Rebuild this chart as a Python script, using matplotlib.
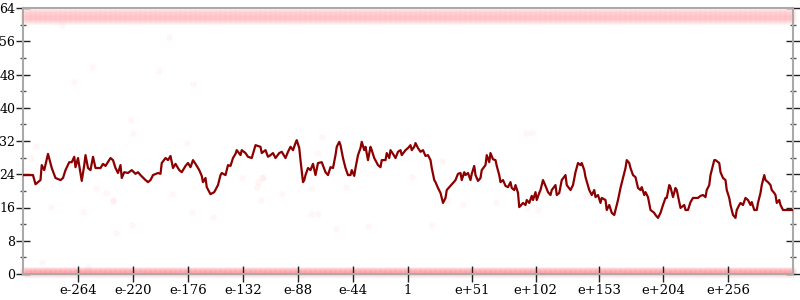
import numpy as np
import matplotlib
matplotlib.use("Agg")
import matplotlib.pyplot as plt
from matplotlib.ticker import MultipleLocator

# ---- data ----
line_x = [-308, -300, -298, -294, -293, -291, -288, -285, -282, -278, -276, -274, -271, -269, -267, -266,
          -264, -261, -259, -258, -256, -254, -252, -250, -246, -244, -242, -238, -236, -234, -232, -230,
          -229, -227, -224, -221, -218, -216, -214, -210, -208, -206, -204, -200, -198, -197, -194, -192,
          -190, -188, -186, -183, -181, -178, -176, -174, -172, -170, -167, -165, -164, -162, -161, -158,
          -155, -152, -150, -149, -146, -144, -142, -140, -138, -137, -134, -133, -130, -128, -125, -123,
          -122, -118, -117, -114, -112, -110, -108, -106, -103, -101, -98, -96, -94, -92, -90, -89,
          -87, -86, -84, -83, -82, -80, -78, -76, -74, -72, -69, -66, -64, -62, -60, -58,
          -57, -55, -54, -52, -50, -48, -46, -45, -43, -42, -40, -38, -37, -35, -34, -32,
          -30, -29, -27, -24, -22, -21, -18, -17, -15, -14, -12, -10, -8, -6, -5, -2,
          0, 2, 3, 5, 6, 8, 10, 12, 14, 16, 18, 19, 21, 22, 24, 26,
          27, 28, 30, 31, 34, 36, 38, 40, 42, 43, 45, 46, 48, 50, 51, 53,
          54, 56, 58, 59, 62, 63, 65, 66, 68, 70, 71, 73, 74, 76, 78, 80,
          82, 83, 85, 86, 88, 89, 90, 92, 94, 95, 97, 99, 100, 102, 103, 105,
          106, 108, 110, 112, 114, 115, 118, 119, 121, 123, 126, 127, 130, 132, 134, 136,
          138, 139, 141, 142, 145, 147, 149, 150, 152, 154, 155, 158, 159, 161, 163, 165,
          166, 168, 170, 172, 174, 175, 177, 178, 180, 182, 184, 186, 187, 189, 190, 192,
          194, 197, 198, 200, 202, 204, 206, 207, 209, 210, 212, 214, 215, 217, 218, 221,
          222, 224, 226, 228, 230, 232, 234, 236, 238, 239, 241, 242, 243, 245, 246, 249,
          250, 252, 254, 255, 257, 258, 260, 262, 263, 265, 266, 268, 270, 272, 274, 275,
          277, 279, 280, 282, 283, 285, 286, 288, 290, 291, 293, 294, 295, 297, 298, 300, 308]
line_y = [23.8, 23.8, 21.6, 22.6, 26.2, 25.0, 28.9, 25.5, 23.1, 22.6, 23.1, 25.0, 26.9, 26.9, 28.2, 25.7,
          27.9, 22.4, 26.2, 28.6, 25.5, 25.0, 28.2, 25.5, 25.5, 26.5, 26.0, 27.9, 27.4, 25.5, 24.3, 26.2,
          23.1, 24.5, 24.3, 25.0, 24.1, 24.5, 23.8, 22.6, 22.1, 22.6, 23.8, 24.3, 24.1, 26.7, 27.9, 27.4,
          28.4, 25.5, 26.5, 25.0, 24.5, 26.0, 26.7, 25.7, 27.4, 26.5, 25.0, 23.6, 22.1, 23.1, 20.9, 19.2,
          19.7, 21.4, 23.8, 24.3, 23.8, 26.2, 26.0, 27.9, 28.9, 29.8, 28.6, 29.8, 29.1, 28.2, 27.9, 30.0,
          31.0, 30.6, 29.1, 29.8, 28.2, 28.6, 29.1, 27.9, 29.1, 29.4, 27.9, 29.4, 30.6, 29.8, 31.5, 32.2,
          30.3, 27.4, 22.1, 22.6, 23.8, 25.5, 25.0, 26.5, 23.8, 26.7, 26.9, 24.5, 23.8, 25.7, 25.5, 28.6,
          30.6, 31.8, 31.0, 27.9, 25.5, 23.8, 23.8, 25.0, 23.6, 25.5, 28.6, 30.3, 31.8, 29.8, 30.6, 27.4,
          30.6, 29.8, 27.9, 26.2, 25.7, 27.4, 27.4, 29.1, 27.9, 29.8, 28.9, 27.9, 29.4, 29.8, 28.6, 29.8,
          30.3, 31.0, 29.8, 30.6, 31.5, 30.3, 29.4, 29.8, 28.4, 28.6, 27.4, 25.5, 22.6, 22.1, 20.7, 19.5,
          18.3, 17.1, 18.3, 20.2, 21.2, 21.9, 22.6, 24.1, 24.3, 22.6, 24.5, 23.8, 24.3, 22.6, 24.1, 26.0,
          23.8, 22.4, 23.1, 25.0, 26.2, 28.6, 26.9, 29.1, 27.6, 27.4, 26.0, 23.8, 22.1, 22.6, 21.2, 20.9,
          22.1, 20.7, 20.2, 21.4, 19.5, 16.1, 16.4, 17.1, 16.6, 17.8, 17.1, 18.8, 17.8, 19.7, 17.8, 19.5,
          20.2, 22.6, 21.2, 19.7, 19.0, 20.2, 21.4, 19.0, 19.5, 22.6, 23.8, 21.4, 20.2, 21.4, 24.5, 26.7,
          26.2, 26.7, 25.0, 23.3, 20.2, 19.0, 20.2, 18.5, 19.0, 17.1, 18.3, 17.8, 15.4, 16.6, 14.7, 14.2,
          15.4, 17.8, 20.7, 23.1, 25.5, 27.4, 26.7, 25.5, 23.8, 23.3, 20.7, 20.2, 20.9, 19.0, 19.7, 18.5,
          15.4, 14.7, 14.2, 13.5, 14.7, 16.6, 18.3, 18.3, 21.4, 20.9, 18.5, 20.7, 20.2, 17.3, 15.9, 16.6,
          15.4, 15.4, 17.3, 18.3, 18.3, 18.3, 18.8, 19.0, 18.5, 20.2, 21.4, 23.8, 25.0, 27.4, 27.4, 26.7,
          24.5, 23.1, 22.6, 20.2, 18.3, 16.6, 14.2, 13.5, 15.4, 16.6, 17.1, 16.6, 18.3, 17.8, 16.6, 17.3,
          15.4, 15.4, 17.1, 19.5, 21.4, 23.8, 22.6, 22.1, 21.4, 20.2, 19.5, 19.0, 17.1, 17.8, 16.6, 15.4, 15.4]

# scattered raw samples (faint points)
band_x = list(range(-308, 309))
top_levels = [63.4, 62.9, 62.4, 61.9, 61.4, 60.9]
bottom_levels = [0.1, 0.4, 0.7, 1.0]
stray_x = [-277, -191, -253, -199, -267, -172, -286, -260, -236, -221, -234, -293, -173, -256, -298, -302,
           -220, -222, -250, -242, -236, -189, -177, -156, -164, -133, -121, -120, -118, -69, -72, -85,
           -78, -101, -50, -116, -78, -72, 27, 3, 31, 70, 94, 99, 108, 104, 142, 95, 44, 19, -32, -58, -117]
stray_y = [59.9, 57.0, 49.8, 48.8, 46.2, 45.7, 16.1, 14.9, 17.6, 11.8, 9.9, 2.9, 14.9, 1.7, 30.8, 27.9,
           33.9, 37.0, 20.7, 19.5, 17.8, 19.2, 31.5, 13.7, 22.6, 23.1, 20.9, 22.1, 17.8, 33.0, 29.1, 24.3,
           20.7, 19.2, 20.9, 23.3, 14.4, 14.4, 27.2, 23.3, 17.8, 17.3, 33.9, 33.9, 19.2, 15.4, 18.8, 15.9,
           16.8, 11.8, 11.5, 10.8, 23.1]

tick_pos = [-264, -220, -176, -132, -88, -44, 0, 51, 102, 153, 204, 256]
tick_labels = ["e-264", "e-220", "e-176", "e-132", "e-88", "e-44", "1",
               "e+51", "e+102", "e+153", "e+204", "e+256"]

# ---- figure ----
plt.rcParams['font.family'] = ['DejaVu Serif']
fig = plt.figure(figsize=(8, 3), dpi=100)
ax = fig.add_axes([23 / 800, 26 / 300, 770 / 800, 266 / 300])

pt_color = (1.0, 0.25, 0.3)
for lv in top_levels:
    ax.scatter(band_x, [lv] * len(band_x), s=26, color=pt_color, alpha=0.018,
               linewidths=0, zorder=1, clip_on=False)
for lv in bottom_levels:
    ax.scatter(band_x, [lv] * len(band_x), s=26, color=pt_color, alpha=0.028,
               linewidths=0, zorder=1, clip_on=False)
ax.scatter(stray_x, stray_y, s=24, color=pt_color, alpha=0.045, linewidths=0, zorder=1)

ax.plot(line_x, line_y, color="#8b0000", lw=1.6, zorder=3)

ax.set_xlim(-308, 308)
ax.set_ylim(0, 64)

for side in ["left", "right", "top", "bottom"]:
    ax.spines[side].set_color("#aaaaaa")
    ax.spines[side].set_linewidth(1.5)

ax.yaxis.set_major_locator(MultipleLocator(8))
ax.yaxis.set_minor_locator(MultipleLocator(4))
ax.tick_params(axis="y", which="major", direction="inout", length=10, width=1,
               color="#222222", labelsize=9, pad=0.5, right=True)
ax.tick_params(axis="y", which="minor", direction="inout", length=4, width=1,
               color="#555555", right=True)
ax.tick_params(axis="y", which="both", labelright=False)

ax.set_xticks(tick_pos)
ax.set_xticklabels(tick_labels)
ax.tick_params(axis="x", which="major", direction="inout", length=12, width=1,
               color="#222222", labelsize=9.5, pad=1)

fig.savefig("out.png", dpi=100)
